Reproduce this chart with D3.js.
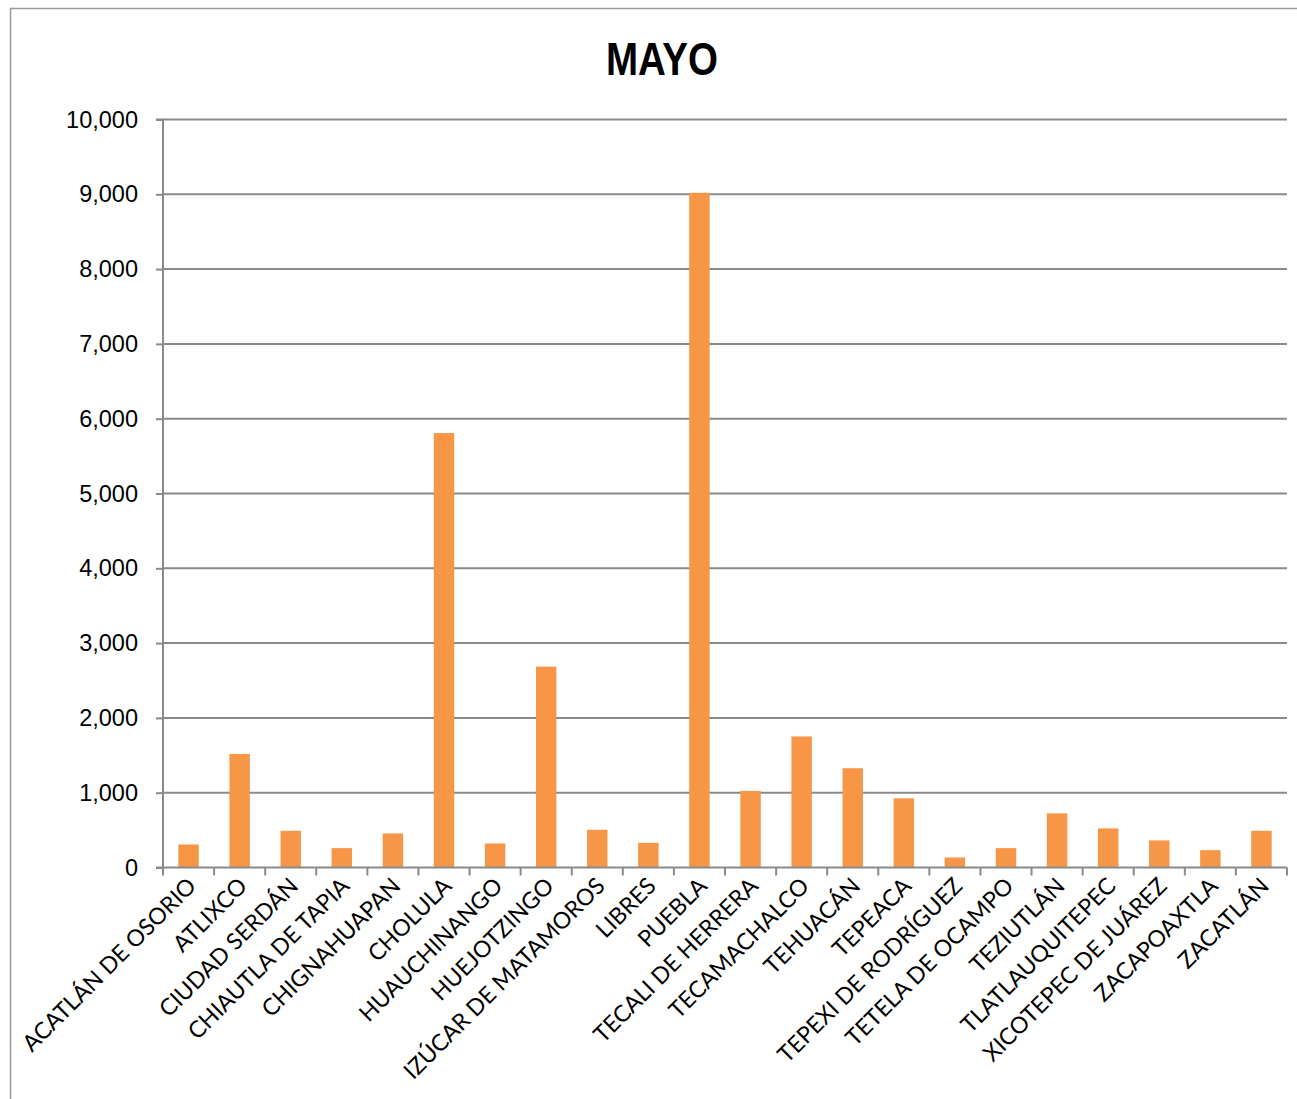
<!DOCTYPE html>
<html>
<head>
<meta charset="utf-8">
<script src="https://cdn.jsdelivr.net/npm/d3@7"></script>
<style>
  html, body { margin: 0; padding: 0; background: #fff; }
  svg { display: block; }
</style>
</head>
<body>
<div id="chart"></div>
<script>
const title = "MAYO";
const categories = [
  "ACATLÁN DE OSORIO", "ATLIXCO", "CIUDAD SERDÁN", "CHIAUTLA DE TAPIA",
  "CHIGNAHUAPAN", "CHOLULA", "HUAUCHINANGO", "HUEJOTZINGO",
  "IZÚCAR DE MATAMOROS", "LIBRES", "PUEBLA", "TECALI DE HERRERA",
  "TECAMACHALCO", "TEHUACÁN", "TEPEACA", "TEPEXI DE RODRÍGUEZ",
  "TETELA DE OCAMPO", "TEZIUTLÁN", "TLATLAUQUITEPEC", "XICOTEPEC DE JUÁREZ",
  "ZACAPOAXTLA", "ZACATLÁN"
];
const values = [
  308, 1518, 491, 259,
  455, 5808, 321, 2685,
  504, 330, 9020, 1023,
  1752, 1327, 925, 134,
  259, 724, 523, 362,
  232, 491
];
const yTicks = [0, 1000, 2000, 3000, 4000, 5000, 6000, 7000, 8000, 9000, 10000];

const W = 1297, H = 1099;
const plotL = 163, plotR = 1287, plotT = 119.5, plotB = 867.5;
const gray = "#8a8a8a";

const svg = d3.select("#chart").append("svg")
  .attr("width", W).attr("height", H);

// chart frame (extends beyond the visible area on right and bottom)
svg.append("path")
  .attr("d", `M10.5,${H + 5} L10.5,8.5 L${W + 5},8.5`)
  .attr("fill", "none").attr("stroke", "#9a9a9a").attr("stroke-width", 1.5);

const x = d3.scaleBand().domain(categories).range([plotL, plotR]).paddingInner(0.6).paddingOuter(0.3);
const xEdge = d3.scaleBand().domain(categories).range([plotL, plotR]).padding(0);
const y = d3.scaleLinear().domain([0, 10000]).range([plotB, plotT]);

// gridlines
svg.append("g").selectAll("line").data(yTicks.filter(d => d > 0)).join("line")
  .attr("x1", plotL).attr("x2", plotR)
  .attr("y1", d => y(d)).attr("y2", d => y(d))
  .attr("stroke", gray).attr("stroke-width", 2);

// bars
svg.append("g").selectAll("rect").data(values).join("rect")
  .attr("x", (d, i) => x(categories[i]))
  .attr("width", x.bandwidth())
  .attr("y", d => y(d))
  .attr("height", d => plotB - y(d))
  .attr("fill", "#F79646");

// y axis
const yAxis = d3.axisLeft(y).tickValues(yTicks).tickSize(7).tickPadding(18)
  .tickFormat(d3.format(","));
const gy = svg.append("g").attr("transform", `translate(${plotL},0)`).call(yAxis);
gy.select(".domain").attr("stroke", gray).attr("stroke-width", 2).attr("d", `M-7,${plotT}H0V${plotB}`);
gy.selectAll(".tick line").attr("stroke", gray).attr("stroke-width", 2);
gy.selectAll(".tick text")
  .attr("font-family", "'Liberation Sans', Arial, sans-serif")
  .attr("font-size", 23.5).attr("fill", "#000");

// x axis baseline and ticks at category boundaries
svg.append("line").attr("x1", plotL - 7).attr("x2", plotR)
  .attr("y1", plotB).attr("y2", plotB).attr("stroke", gray).attr("stroke-width", 2);
const edges = categories.map(c => xEdge(c)).concat([plotR]);
svg.append("g").selectAll("line").data(edges).join("line")
  .attr("x1", d => d).attr("x2", d => d)
  .attr("y1", plotB).attr("y2", plotB + 8)
  .attr("stroke", gray).attr("stroke-width", 2);

// category labels
svg.append("g").selectAll("text").data(categories).join("text")
  .attr("transform", d => `translate(${xEdge(d) + xEdge.bandwidth() / 2 + 9},${plotB + 20}) rotate(-45)`)
  .attr("text-anchor", "end")
  .attr("font-family", "Lato, 'Open Sans', sans-serif")
  .attr("font-size", 23)
  .attr("fill", "#000")
  .text(d => d);

// title
svg.append("text")
  .attr("x", 662).attr("y", 75)
  .attr("text-anchor", "middle")
  .attr("font-family", "'Liberation Sans', Arial, sans-serif")
  .attr("font-weight", "bold")
  .attr("font-size", 46)
  .attr("textLength", 112)
  .attr("lengthAdjust", "spacingAndGlyphs")
  .text(title);
</script>
</body>
</html>
